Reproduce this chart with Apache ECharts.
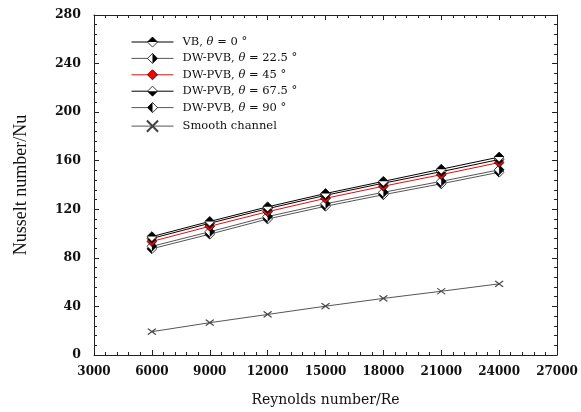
<!DOCTYPE html>
<html><head><meta charset="utf-8">
<script src="https://cdn.jsdelivr.net/npm/echarts@6/dist/echarts.min.js"></script>
<style>html,body{margin:0;padding:0;background:#fff}#c{width:581px;height:412px}</style>
</head><body><div id="c"></div>
<script>
const reynolds = [6000, 9000, 12000, 15000, 18000, 21000, 24000];
const nuVB0 = [97.5, 110, 122, 133, 143, 153, 163];
const nuDW22 = [89.5, 101.5, 114, 124.5, 134, 143, 152.5];
const nuDW45 = [93.5, 106, 118, 129, 139, 148.5, 158.5];
const nuDW67 = [96, 108.5, 120.5, 131.5, 141.5, 151, 161];
const nuDW90 = [87.5, 99.5, 112, 122.5, 132, 141, 150.5];
const nuSmooth = [19.2, 26.6, 33.4, 40.2, 46.6, 52.5, 58.6];
const seriesNames = ['VB, θ = 0 °', 'DW-PVB, θ = 22.5 °', 'DW-PVB, θ = 45 °', 'DW-PVB, θ = 67.5 °', 'DW-PVB, θ = 90 °', 'Smooth channel'];
const xTicks = {min: 3000, max: 27000, interval: 3000};
const yTicks = {min: 0, max: 280, interval: 40};

const halves = {
  top: 'M10,1 L19,10 L1,10 Z',
  bottom: 'M1,10 L19,10 L10,19 Z',
  left: 'M10,1 L1,10 L10,19 Z',
  right: 'M10,1 L19,10 L10,19 Z'
};
function diamond(half, fill) {
  let svg = "<svg xmlns='http://www.w3.org/2000/svg' width='40' height='40' viewBox='0 0 20 20'>";
  svg += "<path d='M10,1 L19,10 L10,19 L1,10 Z' fill='" + (fill || '#fff') + "' stroke='#000' stroke-width='1.4'/>";
  if (half) svg += "<path d='" + halves[half] + "' fill='#000'/>";
  svg += "</svg>";
  return 'image://data:image/svg+xml;charset=utf-8,' + encodeURIComponent(svg);
}
function pts(arr) { return reynolds.map((r, i) => [r, arr[i]]); }

const serif = 'DejaVu Serif';
const axisCommon = {
  axisLine: {show: true, onZero: false, lineStyle: {color: '#222', width: 1}},
  axisTick: {show: true, inside: true, length: 5, lineStyle: {color: '#222'}},
  minorTick: {show: true, splitNumber: 5, length: 3, lineStyle: {color: '#222'}},
  splitLine: {show: false}
};
function lineSeries(name, data, color, symbol, size, z) {
  return {
    name: name, type: 'line', data: pts(data), symbol: symbol, symbolSize: size,
    lineStyle: {color: color, width: 1}, itemStyle: {color: color}, z: z,
    emphasis: {disabled: true}, animation: false
  };
}

const chart = echarts.init(document.getElementById('c'));
chart.setOption({
  animation: false,
  grid: {left: 94, right: 24, top: 15, bottom: 56},
  legend: {
    orient: 'vertical', left: 126, top: 31, itemWidth: 42, itemHeight: 14, itemGap: 4.4,
    data: seriesNames,
    lineStyle: {width: 1},
    formatter: n => n.replace('θ', '{i|θ}'),
    textStyle: {fontFamily: serif, fontSize: 11.5, color: '#111', padding: [0, 0, 0, 4],
      rich: {i: {fontStyle: 'italic', fontFamily: serif, fontSize: 11.5, color: '#111'}}}
  },
  xAxis: [
    Object.assign({type: 'value', position: 'bottom', min: xTicks.min, max: xTicks.max, interval: xTicks.interval,
      name: 'Reynolds number/Re', nameLocation: 'middle', nameGap: 38,
      nameTextStyle: {fontFamily: serif, fontSize: 14, color: '#111'},
      axisLabel: {fontFamily: serif, fontSize: 12, fontWeight: 'bold', color: '#111', margin: 11, formatter: v => String(v)}}, axisCommon),
    Object.assign({type: 'value', position: 'top', min: xTicks.min, max: xTicks.max, interval: xTicks.interval,
      axisLabel: {show: false}}, axisCommon)
  ],
  yAxis: [
    Object.assign({type: 'value', position: 'left', min: yTicks.min, max: yTicks.max, interval: yTicks.interval,
      name: 'Nusselt number/Nu', nameLocation: 'middle', nameGap: 64,
      nameTextStyle: {fontFamily: 'Liberation Serif', fontSize: 18, color: '#111'},
      axisLabel: {fontFamily: serif, fontSize: 12.5, fontWeight: 'bold', color: '#111', margin: 13, formatter: v => String(v)}}, axisCommon),
    Object.assign({type: 'value', position: 'right', min: yTicks.min, max: yTicks.max, interval: yTicks.interval,
      axisLabel: {show: false}}, axisCommon)
  ],
  series: [
    lineSeries(seriesNames[0], nuVB0, '#000', diamond('top'), 11, 6),
    lineSeries(seriesNames[1], nuDW22, '#555', diamond('right'), 11, 3),
    lineSeries(seriesNames[2], nuDW45, '#ff0000', diamond(null, '#ff0000'), 11, 4),
    lineSeries(seriesNames[3], nuDW67, '#000', diamond('bottom'), 11, 5),
    lineSeries(seriesNames[4], nuDW90, '#555', diamond('left'), 11, 2),
    Object.assign(lineSeries(seriesNames[5], nuSmooth, '#555', 'path://M0,0 L10,8 M10,0 L0,8', [8, 6], 2),
      {itemStyle: {color: 'none', borderColor: '#444', borderWidth: 1.2}})
  ]
});
</script></body></html>
